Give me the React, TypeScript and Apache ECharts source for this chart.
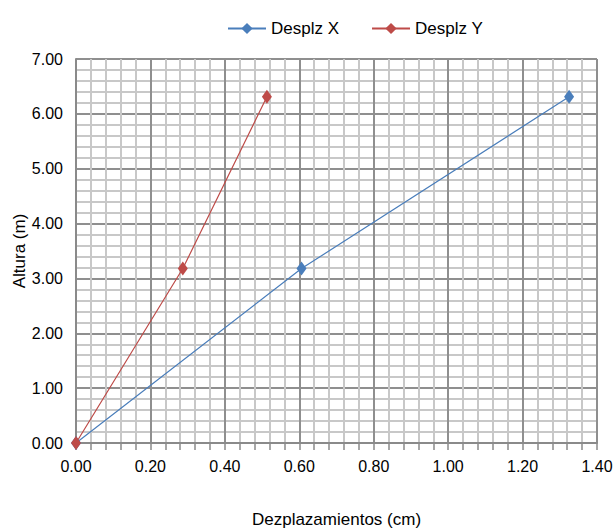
import React, { useEffect, useRef } from "react";
import * as echarts from "echarts";

const seriesNames = ["Desplz X", "Desplz Y"];
const heights = [0, 3.18, 6.31];
const desplX = [0, 0.606, 1.325];
const desplY = [0, 0.287, 0.513];
const colors = ["#4a7ebb", "#be4b48"];
const xTitle = "Dezplazamientos (cm)";
const yTitle = "Altura (m)";

const FONT = "'Liberation Sans Narrow', 'Arial Narrow', 'Liberation Sans', Arial, sans-serif";

export default function App() {
  const ref = useRef<HTMLDivElement>(null);
  useEffect(() => {
    if (!ref.current) return;
    const chart = echarts.init(ref.current, undefined, { renderer: "svg" });
    const mk = (xs: number[]) => xs.map((x, i) => [x, heights[i]]);
    const axisCommon = {
      type: "value" as const,
      axisLine: { show: true, lineStyle: { color: "#8a8a8a", width: 2 } },
      splitLine: { show: true, lineStyle: { color: "#8f8f8f", width: 2 } },
      minorSplitLine: { show: true, lineStyle: { color: "#c8c8c8", width: 2 } },
      nameLocation: "middle" as const,
      nameMoveOverlap: false,
      nameTextStyle: { fontFamily: FONT, fontSize: 17, color: "#000" },
    };
    chart.setOption({
      animation: false,
      textStyle: { fontFamily: FONT },
      legend: {
        top: 15,
        left: 222,
        itemWidth: 38,
        itemHeight: 14,
        itemGap: 32,
        textStyle: { fontFamily: FONT, fontSize: 17, color: "#000" },
        data: seriesNames,
      },
      grid: { left: 76, right: 16, top: 59, bottom: 89, outerBoundsMode: "none", containLabel: false },
      xAxis: {
        ...axisCommon,
        min: 0,
        max: 1.4,
        interval: 0.2,
        name: xTitle,
        nameGap: 68,
        axisTick: { show: true, length: 7, lineStyle: { color: "#8a8a8a", width: 1.5 } },
        minorTick: { show: true, splitNumber: 5, length: 7, lineStyle: { color: "#8a8a8a", width: 1.5 } },
        axisLabel: {
          margin: 15,
          fontFamily: FONT,
          fontSize: 16,
          color: "#000",
          formatter: (v: number) => v.toFixed(2),
        },
      },
      yAxis: {
        ...axisCommon,
        min: 0,
        max: 7,
        interval: 1,
        name: yTitle,
        nameGap: 48,
        axisTick: { show: false },
        minorTick: { show: false, splitNumber: 5 },
        axisLabel: {
          margin: 13,
          fontFamily: FONT,
          fontSize: 16,
          color: "#000",
          formatter: (v: number) => v.toFixed(2),
        },
      },
      series: [
        {
          name: seriesNames[0],
          type: "line",
          data: mk(desplX),
          symbol: "diamond",
          symbolSize: [10, 14],
          lineStyle: { color: colors[0], width: 1.2 },
          itemStyle: { color: colors[0] },
        },
        {
          name: seriesNames[1],
          type: "line",
          data: mk(desplY),
          symbol: "diamond",
          symbolSize: [10, 14],
          lineStyle: { color: colors[1], width: 1.2 },
          itemStyle: { color: colors[1] },
        },
      ],
    });
    return () => chart.dispose();
  }, []);
  return <div ref={ref} style={{ width: 613, height: 532, position: "absolute", left: 0, top: 0 }} />;
}
